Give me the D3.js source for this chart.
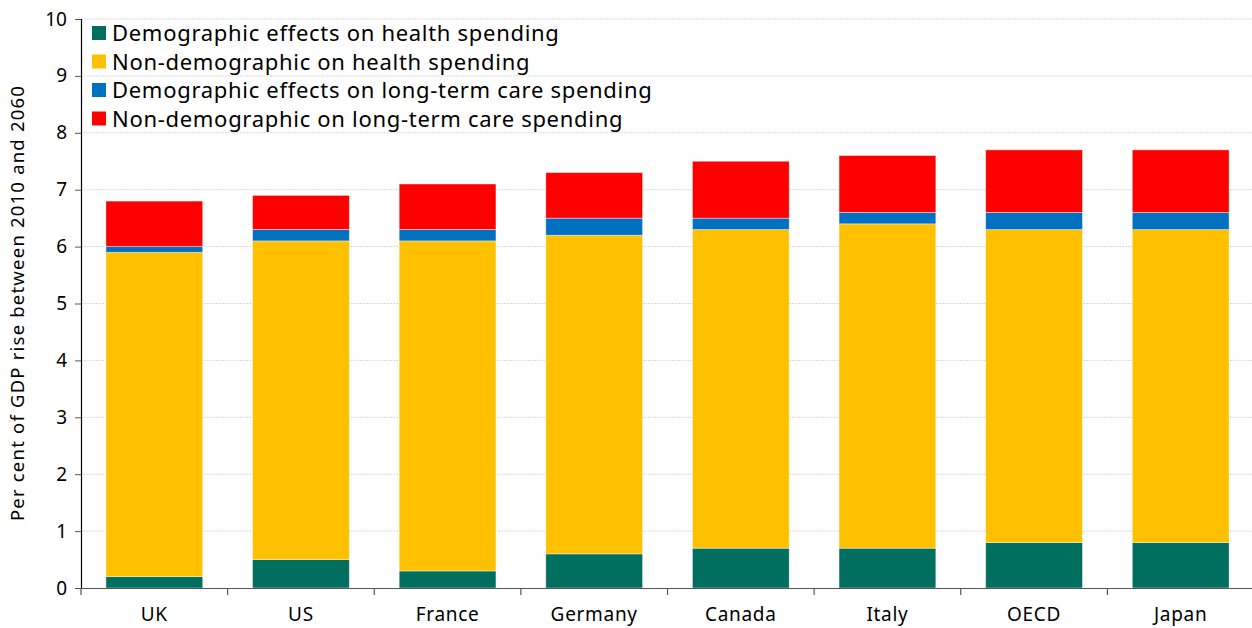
<!DOCTYPE html>
<html>
<head>
<meta charset="utf-8">
<script src="https://cdn.jsdelivr.net/npm/d3@7"></script>
<style>
  body { margin: 0; background: #fff; }
  svg text { font-family: "Noto Sans", Lato, sans-serif; fill: #000; }
</style>
</head>
<body>
<div id="chart"></div>
<script>
// data
var countries = ["UK", "US", "France", "Germany", "Canada", "Italy", "OECD", "Japan"];
var seriesNames = [
  "Demographic effects on health spending",
  "Non-demographic on health spending",
  "Demographic effects on long-term care spending",
  "Non-demographic on long-term care spending"
];
var demoHealth    = [0.2, 0.5, 0.3, 0.6, 0.7, 0.7, 0.8, 0.8];
var nonDemoHealth = [5.7, 5.6, 5.8, 5.6, 5.6, 5.7, 5.5, 5.5];
var demoLtc       = [0.1, 0.2, 0.2, 0.3, 0.2, 0.2, 0.3, 0.3];
var nonDemoLtc    = [0.8, 0.6, 0.8, 0.8, 1.0, 1.0, 1.1, 1.1];
var colors = ["#006F5F", "#FFC000", "#0070C0", "#FF0000"];
var yTicks = [0, 1, 2, 3, 4, 5, 6, 7, 8, 9, 10];

var rows = countries.map(function(c, i) {
  return { country: c, s0: demoHealth[i], s1: nonDemoHealth[i], s2: demoLtc[i], s3: nonDemoLtc[i] };
});

var W = 1252, H = 628;
var margin = {top: 19, right: 0, bottom: 40, left: 81};
var width = W - margin.left - margin.right,
    height = H - margin.top - margin.bottom;

var svg = d3.select("#chart").append("svg")
  .attr("width", W).attr("height", H);
var g = svg.append("g")
  .attr("transform", "translate(" + margin.left + "," + margin.top + ")");

var x = d3.scaleBand().domain(countries).range([0, 1173]).paddingInner(0.34).paddingOuter(0.17);
var y = d3.scaleLinear().domain([0, 10]).range([height, 0]);

// gridlines
g.append("g").selectAll("line").data(yTicks.slice(1)).enter().append("line")
  .attr("x1", 0).attr("x2", width)
  .attr("y1", function(d) { return y(d); }).attr("y2", function(d) { return y(d); })
  .attr("stroke", "#d9d9d9").attr("stroke-width", 1).attr("stroke-dasharray", "2,1");

// stacked bars
var stack = d3.stack().keys(["s0", "s1", "s2", "s3"]);
var layers = stack(rows);
g.append("g").selectAll("g").data(layers).enter().append("g")
  .attr("fill", function(d, i) { return colors[i]; })
  .selectAll("rect").data(function(d) { return d; }).enter().append("rect")
  .attr("x", function(d) { return x(d.data.country); })
  .attr("width", x.bandwidth())
  .attr("y", function(d) { return y(d[1]); })
  .attr("height", function(d) { return y(d[0]) - y(d[1]); })
  .attr("stroke", "rgba(255,255,255,0.5)").attr("stroke-width", 0.8);

// y axis
var yAxis = g.append("g")
  .call(d3.axisLeft(y).tickValues(yTicks).tickSize(6).tickPadding(8).tickFormat(d3.format("d")));
yAxis.select(".domain").attr("stroke", "#000").attr("stroke-width", 1.2);
yAxis.selectAll(".tick line").attr("stroke", "#555");
yAxis.selectAll("text").style("font-size", "19px").attr("fill", "#000");

// x axis
var xAxis = g.append("g").attr("transform", "translate(0," + height + ")")
  .call(d3.axisBottom(x).tickSize(0).tickPadding(20));
xAxis.select(".domain").attr("stroke", "#555").attr("stroke-width", 1.2);
xAxis.selectAll("text").style("font-size", "19px").style("letter-spacing", "0.7px").attr("fill", "#000");
// category boundary ticks
var bounds = countries.map(function(c) { return x(c) - x.step() * x.paddingInner() / 2; });
bounds.push(1173);
xAxis.append("g").selectAll("line").data(bounds).enter().append("line")
  .attr("x1", function(d) { return d; }).attr("x2", function(d) { return d; })
  .attr("y1", 0).attr("y2", 7).attr("stroke", "#555").attr("stroke-width", 1.2);

// y label
svg.append("text")
  .attr("transform", "translate(24," + (margin.top + 284) + ") rotate(-90)")
  .attr("text-anchor", "middle")
  .style("font-size", "18.5px")
  .style("letter-spacing", "1.2px")
  .text("Per cent of GDP rise between 2010 and 2060");

// legend
var legend = svg.append("g").attr("transform", "translate(92,33)");
var items = legend.selectAll("g").data(seriesNames).enter().append("g")
  .attr("transform", function(d, i) { return "translate(0," + (i * 28.5) + ")"; });
items.append("rect").attr("x", 0).attr("y", -7).attr("width", 14).attr("height", 14)
  .attr("fill", function(d, i) { return colors[i]; });
items.append("text").attr("x", 20).attr("y", 8)
  .style("font-size", "22px")
  .style("letter-spacing", "0.7px")
  .text(function(d) { return d; });
</script>
</body>
</html>
